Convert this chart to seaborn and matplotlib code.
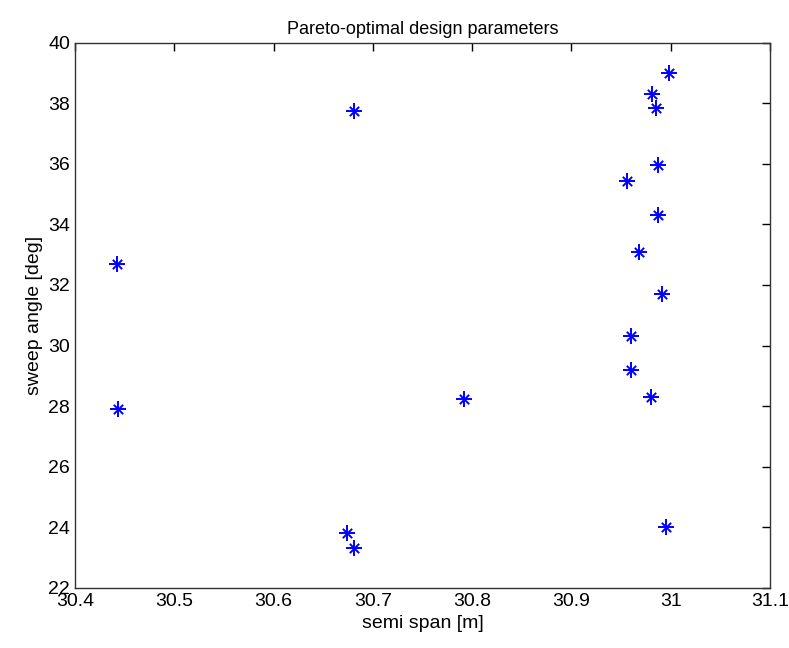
import matplotlib
matplotlib.use("Agg")
import matplotlib.pyplot as plt
import seaborn as sns
import pandas as pd

# Pareto-optimal designs
semi_span = [30.998, 30.981, 30.985, 30.987, 30.956, 30.987, 30.968, 30.991,
             30.960, 30.960, 30.980, 30.995, 30.681, 30.442, 30.443, 30.792,
             30.674, 30.681]
sweep_angle = [39.0, 38.3, 37.85, 35.97, 35.45, 34.3, 33.1, 31.7,
               30.3, 29.2, 28.3, 24.0, 37.75, 32.7, 27.9, 28.25,
               23.8, 23.3]

df = pd.DataFrame({'semi_span': semi_span, 'sweep_angle': sweep_angle})

sns.set_style('white')
plt.rcParams['font.family'] = ['Liberation Sans Narrow', 'Liberation Sans', 'DejaVu Sans']
plt.rcParams['text.color'] = 'black'
plt.rcParams['axes.labelcolor'] = 'black'
plt.rcParams['xtick.color'] = 'black'
plt.rcParams['ytick.color'] = 'black'

fig = plt.figure(figsize=(7.89, 6.48), dpi=100)
ax = fig.add_axes([0.095, 0.093, 0.881, 0.841])

# matlab style asterisk: a plus with a smaller x on top
sns.scatterplot(data=df, x='semi_span', y='sweep_angle', marker='+',
                color='blue', s=130, linewidth=1.4, ax=ax)
sns.scatterplot(data=df, x='semi_span', y='sweep_angle', marker='x',
                color='blue', s=45, linewidth=1.4, ax=ax)

ax.set_xlim(30.4, 31.1)
ax.set_ylim(22, 40)
ax.set_xticks([30.4, 30.5, 30.6, 30.7, 30.8, 30.9, 31.0, 31.1])
ax.set_xticklabels(['30.4', '30.5', '30.6', '30.7', '30.8', '30.9', '31', '31.1'])
ax.set_yticks(range(22, 41, 2))
ax.tick_params(direction='in', top=True, right=True, length=6, width=1,
               labelsize=14)
for s in ax.spines.values():
    s.set_color('#333333')
    s.set_linewidth(1)

ax.set_xlabel('semi span [m]', fontsize=14)
ax.set_ylabel('sweep angle [deg]', fontsize=14)
ax.set_title('Pareto-optimal design parameters', fontsize=13)

fig.savefig('out.png', dpi=100)
